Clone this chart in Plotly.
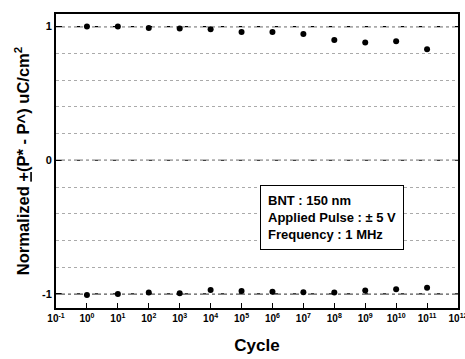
import plotly.graph_objects as go

exponents = list(range(0, 12))
cycles = [10 ** e for e in exponents]
p_pos = [1.0, 1.0, 0.99, 0.985, 0.98, 0.96, 0.96, 0.945, 0.90, 0.88, 0.89, 0.83]
p_neg = [-1.007, -1.0, -0.99, -0.995, -0.97, -0.978, -0.983, -0.987, -0.99, -0.975, -0.965, -0.953]
tick_exps = list(range(-1, 13))
tick_vals = [10.0 ** e for e in tick_exps]
tick_text = ["10<sup>%d</sup>" % e for e in tick_exps]
y_ticks = [-1, 0, 1]
legend_lines = ["BNT : 150 nm", "Applied Pulse : \u00b1 5 V", "Frequency : 1 MHz"]

fig = go.Figure()
for ys in (p_pos, p_neg):
    fig.add_trace(go.Scatter(x=cycles, y=ys, mode="markers",
                             marker=dict(color="black", size=6),
                             showlegend=False, cliponaxis=False))

for yv in y_ticks:
    fig.add_shape(type="line", xref="paper", x0=0, x1=1, yref="y", y0=yv, y1=yv,
                  line=dict(color="black", width=1.2, dash="dashdot"), layer="below")

font = "Liberation Sans, Arial, sans-serif"
fig.update_layout(
    width=465, height=359,
    margin=dict(l=56, r=7, t=14, b=51, autoexpand=False),
    paper_bgcolor="white", plot_bgcolor="white",
    font=dict(family=font, color="black"),
    xaxis=dict(type="log", range=[-1.0002, 12.0002], tickvals=tick_vals, ticktext=tick_text,
               tickfont=dict(size=10, family=font, weight="bold"),
               ticklabeloverflow="allow", automargin=False,
               ticks="inside", ticklen=5, tickwidth=1, tickcolor="black",
               minor=dict(ticks="inside", ticklen=3, tickcolor="black", showgrid=False),
               showline=True, linecolor="black", linewidth=2, mirror=True,
               showgrid=False, zeroline=False,
               title=dict(text="<b>Cycle</b>", font=dict(size=17, family=font), standoff=16)),
    yaxis=dict(range=[-1.105, 1.094], tickvals=y_ticks, ticktext=["-1", "0", "1"],
               tickfont=dict(size=11, family=font, weight="bold"),
               automargin=False,
               ticks="inside", ticklen=5, tickcolor="black",
               showline=True, linecolor="black", linewidth=2, mirror=True,
               showgrid=False, zeroline=False,
               minor=dict(dtick=0.2, tick0=0, showgrid=True, gridcolor="#aaaaaa",
                          griddash="dot", gridwidth=1, ticks=""),
               title=dict(text="<b>Normalized <u>+</u>(P* - P^) uC/cm<sup>2</sup></b>",
                          font=dict(size=16.5, family=font), standoff=8)),
)

fig.add_annotation(xref="paper", yref="paper", x=0.507, y=0.418, xanchor="left", yanchor="top",
                   text="<br>".join("<b>%s</b>" % s for s in legend_lines),
                   showarrow=False, align="left",
                   font=dict(size=13, family=font, color="black"),
                   bordercolor="black", borderwidth=1, borderpad=7, bgcolor="white")

fig.write_html("out.html")
